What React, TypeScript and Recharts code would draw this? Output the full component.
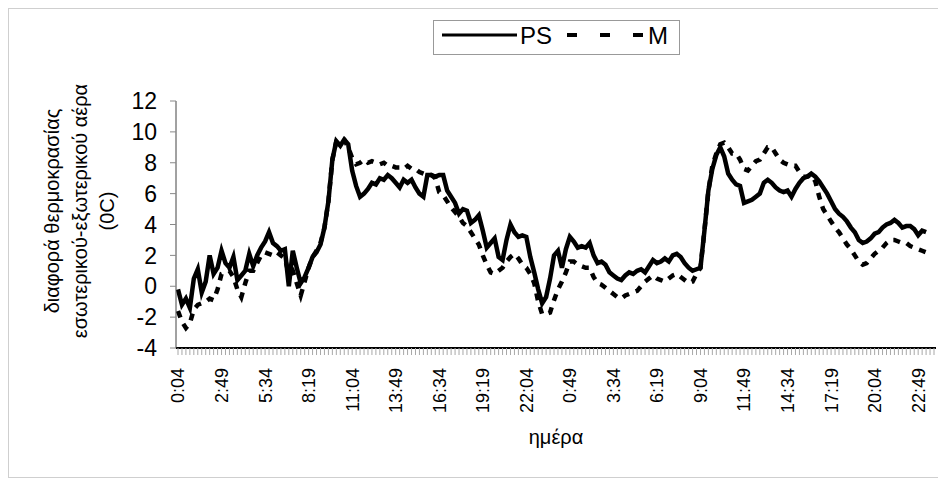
import { LineChart, Line, XAxis, YAxis, Legend } from 'recharts'

const FONT = '"Liberation Sans", Arial, sans-serif'

// one reading every 15 minutes, two days, starting 0:04
const slotCount = 192
const labelEvery = 11

const tickLabels = [
  '0:04', '2:49', '5:34', '8:19', '11:04', '13:49', '16:34', '19:19', '22:04',
  '0:49', '3:34', '6:19', '9:04', '11:49', '14:34', '17:19', '20:04', '22:49',
]

const yTicks = [-4, -2, 0, 2, 4, 6, 8, 10, 12]

const psValues = [
  -0.2, -1.2, -0.8, -1.4, 0.5, 1.1, -0.4, 0.3, 2.0, 0.8,
  1.2, 2.3, 1.5, 1.2, 1.9, 0.4, 0.7, 1.0, 2.1, 1.3,
  2.0, 2.5, 2.9, 3.5, 2.8, 2.6, 2.3, 2.4, 0.0, 2.3,
  1.2, 0.2, 0.6, 1.2, 1.9, 2.2, 2.7, 3.8, 5.5, 8.2,
  9.4, 9.1, 9.5, 9.2, 7.5, 6.5, 5.8, 6.0, 6.3, 6.7,
  6.6, 7.0, 6.9, 7.2, 7.0, 6.7, 6.4, 6.9, 6.7, 6.9,
  6.4, 6.0, 5.8, 7.2, 7.2, 7.1, 7.2, 7.2, 6.2, 5.8,
  5.4, 4.7, 5.0, 4.9, 4.1, 4.3, 4.6, 3.6, 2.5, 2.8,
  3.1, 1.9, 1.7, 3.0, 4.0, 3.5, 3.2, 3.3, 3.2, 1.9,
  0.9, -0.2, -1.1, -0.7, 0.5, 2.0, 2.3, 1.2, 2.4, 3.2,
  2.9, 2.5, 2.6, 2.5, 2.8, 2.0, 1.5, 1.6, 1.4, 0.9,
  0.7, 0.5, 0.4, 0.7, 0.9, 0.8, 1.0, 1.1, 0.9, 1.3,
  1.7, 1.5, 1.6, 1.8, 1.6, 2.0, 2.1, 1.9, 1.5, 1.2,
  1.0, 1.1, 1.2, 3.6, 6.2, 7.6, 8.5, 9.0, 8.4, 7.3,
  6.9, 6.6, 6.5, 5.4, 5.5, 5.6, 5.8, 6.0, 6.7, 6.9,
  6.7, 6.4, 6.2, 6.1, 6.2, 5.8, 6.3, 6.7, 7.0, 7.1,
  7.3, 7.1, 6.8, 6.4, 6.0, 5.5, 5.0, 4.7, 4.5, 4.2,
  3.8, 3.5, 3.0, 2.8, 2.9, 3.1, 3.4, 3.5, 3.8, 4.0,
  4.1, 4.3, 4.1, 3.8, 3.9, 3.9, 3.7, 3.3, 3.6, 3.5,
]

const mValues = [
  -1.6, -2.3, -2.7, -2.4, -1.5, -1.2, -1.1, -1.0, -0.8, -0.9,
  -0.2, 0.8, 0.9, 1.0, 0.6, -0.2, -0.7, 0.2, 1.0, 1.0,
  1.5, 2.0, 2.2, 2.1, 2.0, 2.2, 2.0, 1.8, 0.8, 1.0,
  0.2, -0.6, 0.3, 1.2, 1.9, 2.3, 2.8, 3.8, 5.5, 8.2,
  9.4, 9.6, 9.5, 9.0, 8.3, 7.9, 8.0, 8.2, 8.0, 8.1,
  8.0, 7.9, 8.0, 7.8, 7.8, 7.7, 7.7, 7.6, 7.8, 7.6,
  7.6, 7.4, 7.3, 7.2, 7.2, 7.0, 6.1, 5.9, 5.5, 5.1,
  4.8, 4.5, 4.1, 3.9, 3.5, 3.1, 2.7, 2.0, 1.4, 0.9,
  0.8, 1.0, 1.2, 1.6, 1.9, 2.1, 1.8, 1.4, 1.2, 0.8,
  0.2, -1.0, -1.8, -1.8, -1.7, -0.9, -0.2, 0.3, 0.9, 1.6,
  1.6, 1.4, 1.3, 1.2, 1.2, 0.6, 0.2, 0.1, -0.1, -0.3,
  -0.5, -0.7, -0.8, -0.6, -0.5, -0.4, -0.3, 0.0, 0.3, 0.5,
  0.7, 0.5, 0.4, 0.3, 0.5, 0.7, 0.8, 0.6, 0.4, 0.2,
  0.3, 0.8, 1.2, 3.6, 6.2, 7.8, 8.6, 9.2, 9.3, 9.0,
  8.6, 8.6, 8.2, 7.6, 7.5, 7.8, 8.1, 8.2, 8.6, 9.0,
  9.0, 8.6, 8.2, 8.0, 7.9, 7.8, 7.8, 7.4, 7.1, 7.1,
  7.2, 6.8, 5.8, 5.0, 4.6, 4.2, 3.8, 3.5, 3.1, 2.7,
  2.4, 2.0, 1.6, 1.4, 1.5, 1.8, 2.1, 2.3, 2.5, 2.8,
  3.0, 3.0, 2.9, 2.8, 2.8, 2.6, 2.5, 2.4, 2.3, 2.2,
]

const data = Array.from({ length: slotCount }, (_, i) => ({
  i,
  ps: psValues[i] ?? null,
  m: mValues[i] ?? null,
}))

function XTick({ x, y, payload }: any) {
  const idx = payload.value
  if (idx % labelEvery !== 0) return null
  return (
    <text
      x={x}
      y={y}
      dy="0.36em"
      transform={`rotate(-90 ${x} ${y})`}
      textAnchor="end"
      fontSize={18}
      fontFamily={FONT}
      fill="#000"
    >
      {tickLabels[idx / labelEvery]}
    </text>
  )
}

function YTitle() {
  const lines = ['διαφορά θερμοκρασίας', 'εσωτερικού-εξωτερικού αέρα', '(0C)']
  const xs = [43, 71, 98]
  const cy = 202
  return (
    <g>
      {lines.map((t, k) => (
        <text
          key={k}
          x={xs[k]}
          y={cy}
          dy="0.36em"
          transform={`rotate(-90 ${xs[k]} ${cy})`}
          textAnchor="middle"
          fontSize={20}
          fontFamily={FONT}
          fill="#000"
        >
          {t}
        </text>
      ))}
    </g>
  )
}

function XTitle() {
  return (
    <text x={547} y={435} textAnchor="middle" fontSize={20} fontFamily={FONT} fill="#000">
      ημέρα
    </text>
  )
}

function LegendBox() {
  return (
    <svg width={247} height={35} style={{ display: 'block' }}>
      <rect x={0.5} y={0.5} width={246} height={34} fill="#fff" stroke="#999" />
      <line x1={9} y1={15} x2={84} y2={15} stroke="#000" strokeWidth={3} />
      <text x={87} y={24} fontSize={24} fontFamily={FONT} fill="#000">PS</text>
      <line x1={134} y1={15} x2={210} y2={15} stroke="#000" strokeWidth={4} strokeDasharray="10 23" />
      <text x={215} y={24} fontSize={24} fontFamily={FONT} fill="#000">M</text>
    </svg>
  )
}

export default function App() {
  return (
    <div style={{ width: 934, height: 468, border: '1px solid #cfcfcf', position: 'relative', background: '#fff' }}>
      <LineChart width={934} height={468} data={data} margin={{ top: 92, right: 7, bottom: 69, left: 107 }}>
        <XAxis
          xAxisId="top"
          orientation="top"
          dataKey="i"
          height={0}
          padding={{ left: 2, right: 2 }}
          tick={false}
          tickLine={false}
          axisLine={{ stroke: '#777' }}
        />
        <XAxis
          xAxisId="main"
          dataKey="i"
          height={60}
          interval={0}
          padding={{ left: 2, right: 2 }}
          tick={<XTick />}
          tickSize={7}
          tickMargin={13}
          tickLine={{ stroke: '#a8a8a8' }}
          axisLine={{ stroke: '#000', strokeWidth: 2 }}
          label={{ content: XTitle }}
        />
        <YAxis
          yAxisId="main"
          domain={[-4, 12]}
          ticks={yTicks}
          interval={0}
          width={60}
          tickSize={6}
          tickMargin={13}
          tickLine={{ stroke: '#888' }}
          axisLine={{ stroke: '#444' }}
          tick={{ fontSize: 23, fontFamily: FONT, fill: '#000' }}
          label={{ content: YTitle }}
        />
        <YAxis
          yAxisId="right"
          orientation="right"
          domain={[0, 1]}
          width={0}
          tick={false}
          tickLine={false}
          axisLine={{ stroke: '#777' }}
        />
        <Legend
          verticalAlign="middle"
          align="center"
          layout="horizontal"
          content={LegendBox}
          wrapperStyle={{ left: 424, top: 11, width: 247, height: 35 }}
        />
        <Line
          xAxisId="main"
          yAxisId="main"
          type="linear"
          dataKey="ps"
          name="PS"
          stroke="#000"
          strokeWidth={4.5}
          dot={false}
          isAnimationActive={false}
        />
        <Line
          xAxisId="main"
          yAxisId="main"
          type="linear"
          dataKey="m"
          name="M"
          stroke="#000"
          strokeWidth={4.5}
          strokeDasharray="7 7"
          dot={false}
          isAnimationActive={false}
        />
      </LineChart>
    </div>
  )
}
